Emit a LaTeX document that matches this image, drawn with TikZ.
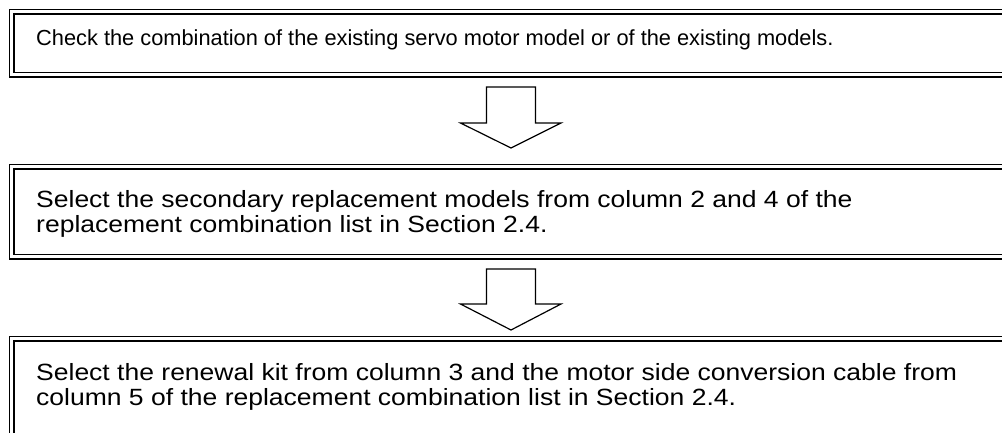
\documentclass[tikz,border=0pt]{standalone}
\usepackage{fontspec}
\usepackage{graphicx}
\setmainfont{Liberation Sans}
\begin{document}
\begin{tikzpicture}[x=1pt,y=-1pt,
  frame/.style={draw=black, line width=1.5pt, double=white, double distance=3pt},
  blockarrow/.style={draw=black, line width=1.2pt, fill=white, line join=miter},
  txt/.style={anchor=base west, inner sep=0pt, align=left}]
\useasboundingbox (0,0) rectangle (1002,432);
\begin{scope}
\clip (0,0) rectangle (1002,432);
% boxes
\draw[frame] (11.5,11.5) rectangle (1020,74.5);
\draw[frame] (11.5,166.5) rectangle (1020,256.5);
\draw[frame] (11.5,338.5) rectangle (1020,450);
% named anchors
\coordinate (b1s) at (511,87);
\coordinate (b2s) at (511,269);
% arrows
\draw[blockarrow] (b1s) ++(-24.5,0) -- ++(0,36) -- ++(-26,0) -- (511,148) -- (561,123) -- (535.5,123) -- (535.5,87) -- cycle;
\draw[blockarrow] (b2s) ++(-24.5,0) -- ++(0,35) -- ++(-26,0) -- (511,330) -- (561,304) -- (535.5,304) -- (535.5,269) -- cycle;
\end{scope}
\node[txt, font=\fontsize{21.8}{24}\selectfont] (t1) at (36,45) {Check the combination of the existing servo motor model or of the existing models.};
\node[txt, font=\fontsize{23.5}{25}\selectfont] (t2) at (36,207) {\scalebox{1.128}[1]{\begin{tabular}[t]{@{}l@{}}Select the secondary replacement models from column 2 and 4 of the\\replacement combination list in Section 2.4.\end{tabular}}};
\node[txt, font=\fontsize{23.5}{25}\selectfont] (t3) at (36,380) {\scalebox{1.128}[1]{\begin{tabular}[t]{@{}l@{}}Select the renewal kit from column 3 and the motor side conversion cable from\\column 5 of the replacement combination list in Section 2.4.\end{tabular}}};
\end{tikzpicture}
\end{document}
